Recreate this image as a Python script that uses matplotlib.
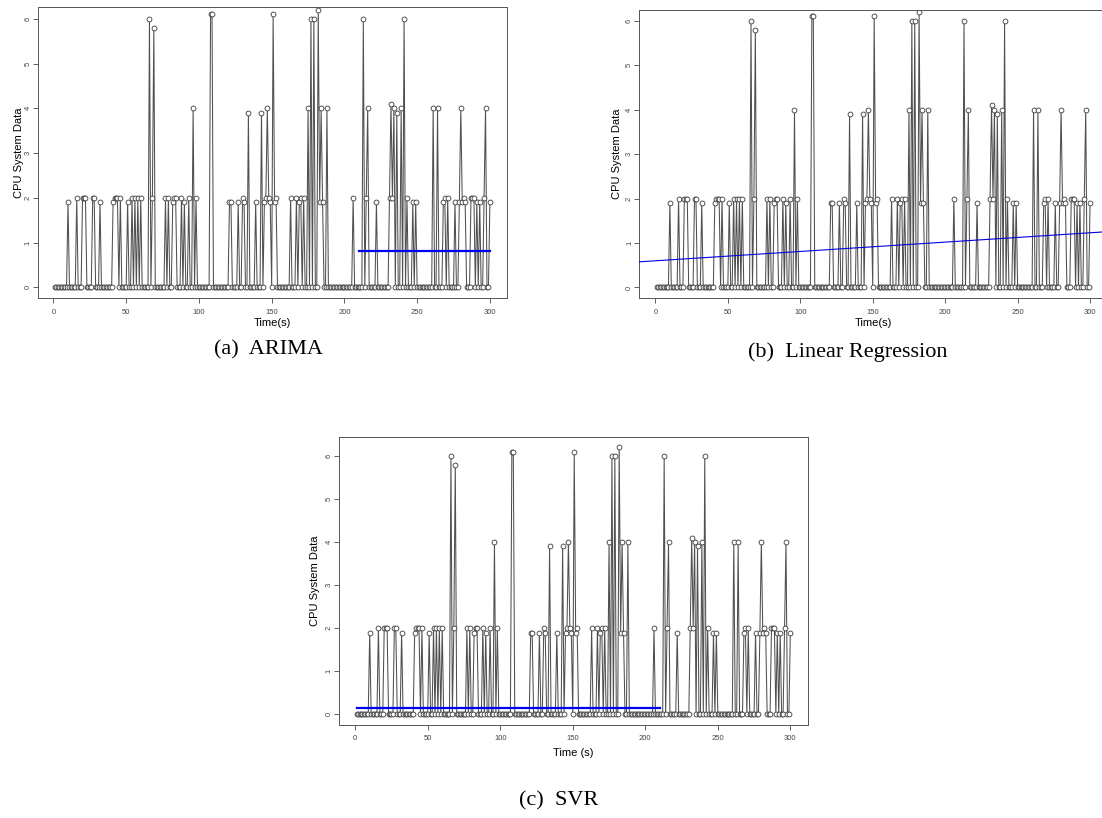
import matplotlib
matplotlib.use("Agg")
import matplotlib.pyplot as plt
import numpy as np

plt.rcParams['font.family'] = ['Liberation Sans', 'DejaVu Sans']

## time axis and CPU system data (all non-listed seconds are 0)
time_s = np.arange(1, 301)
peak_times = [10, 16, 20, 21, 22, 27, 28, 32, 41, 42, 43, 44, 46, 51, 54, 56, 58, 60,
              66, 68, 69, 77, 79, 82, 83, 84, 88, 90, 93, 96, 98, 108, 109,
              121, 122, 127, 130, 131, 134, 139, 143, 145, 146, 147, 148, 149, 151, 152, 153,
              163, 167, 169, 170, 172, 175, 177, 179, 182, 183, 184, 185, 188,
              206, 213, 215, 216, 222, 231, 232, 233, 234, 236, 239, 241, 243, 247, 249,
              261, 264, 268, 269, 271, 276, 279, 280, 281, 282, 283, 287, 288, 289,
              291, 293, 296, 297, 300]
peak_values = [1.9, 2.0, 2.0, 2.0, 2.0, 2.0, 2.0, 1.9, 1.9, 2.0, 2.0, 2.0, 2.0, 1.9, 2.0, 2.0, 2.0, 2.0,
               6.0, 2.0, 5.8, 2.0, 2.0, 1.9, 2.0, 2.0, 2.0, 1.9, 2.0, 4.0, 2.0, 6.1, 6.1,
               1.9, 1.9, 1.9, 2.0, 1.9, 3.9, 1.9, 3.9, 1.9, 2.0, 4.0, 2.0, 1.9, 6.1, 1.9, 2.0,
               2.0, 2.0, 1.9, 2.0, 2.0, 4.0, 6.0, 6.0, 6.2, 1.9, 4.0, 1.9, 4.0,
               2.0, 6.0, 2.0, 4.0, 1.9, 2.0, 4.1, 2.0, 4.0, 3.9, 4.0, 6.0, 2.0, 1.9, 1.9,
               4.0, 4.0, 1.9, 2.0, 2.0, 1.9, 1.9, 4.0, 1.9, 2.0, 1.9, 2.0, 2.0, 2.0,
               1.9, 1.9, 2.0, 4.0, 1.9]
cpu = np.zeros(len(time_s))
for t, v in zip(peak_times, peak_values):
    cpu[t - 1] = v

## model predictions
arima_start, arima_end, arima_level = 210, 300, 0.80
lr_intercept, lr_slope = 0.60, 0.0021
svr_start, svr_end, svr_level = 1, 210, 0.155

captions = ["(a)  ARIMA", "(b)  Linear Regression", "(c)  SVR"]
xlabels = ["Time(s)", "Time(s)", "Time (s)"]

W, H = 1102, 818
fig = plt.figure(figsize=(W / 100, H / 100), dpi=100)


def make_axes(left, top, right, bottom):
    return fig.add_axes([left / W, 1 - bottom / H, (right - left) / W, (bottom - top) / H])


ax_a = make_axes(37.5, 7.3, 507.3, 298)
ax_b = make_axes(639.5, 10, 1107.4, 297.7)
ax_c = make_axes(339.3, 436.7, 807.7, 725)

ylims = [(-0.24, 6.26), (-0.23, 6.24), (-0.248, 6.448)]
ytick_pad = [0.5, 1.2, 1.2]
ylabel_pad = [0.5, 3.0, 4.5]
xtick_pad = [4.7, 4.5, 4.0]
xlabel_pad = [1.5, 1.5, 4.0]

for i, ax in enumerate([ax_a, ax_b, ax_c]):
    ax.plot(time_s, cpu, color='#505050', lw=0.75, marker='o', ms=3.5,
            mfc='white', mec='#3a3a3a', mew=0.6, zorder=2)
    ax.set_xlim(1 - 0.04 * 299, 300 + 0.04 * 299)
    ax.set_ylim(*ylims[i])
    ax.set_xticks([0, 50, 100, 150, 200, 250, 300])
    ax.set_yticks([0, 1, 2, 3, 4, 5, 6])
    ax.tick_params(axis='both', direction='out', length=3.5, width=0.6,
                   colors='#444444', labelsize=5.5)
    ax.tick_params(axis='y', pad=ytick_pad[i])
    ax.tick_params(axis='x', pad=xtick_pad[i])
    for lbl in ax.get_yticklabels():
        lbl.set_rotation(90)
        lbl.set_va('center')
    for sp in ax.spines.values():
        sp.set_color('#555555')
        sp.set_linewidth(0.7)
    ax.set_ylabel("CPU System Data", fontsize=8, labelpad=ylabel_pad[i])
    ax.set_xlabel(xlabels[i], fontsize=8, labelpad=xlabel_pad[i])

ax_a.plot([arima_start, arima_end], [arima_level, arima_level], color='#0000ee', lw=1.6, zorder=3)
xs = np.array(ax_b.get_xlim())
ax_b.plot(xs, lr_intercept + lr_slope * xs, color='#0000dd', lw=0.8, zorder=3)
ax_c.plot([svr_start, svr_end], [svr_level, svr_level], color='#0000ee', lw=1.6, zorder=3)

cap_pos = [(268, 350), (848, 352), (559, 801)]
for (cx, cy), txt in zip(cap_pos, captions):
    fig.text(cx / W, 1 - cy / H, txt, ha='center', va='center',
             family='Liberation Serif', fontsize=16)

fig.savefig("out.png", dpi=100)
